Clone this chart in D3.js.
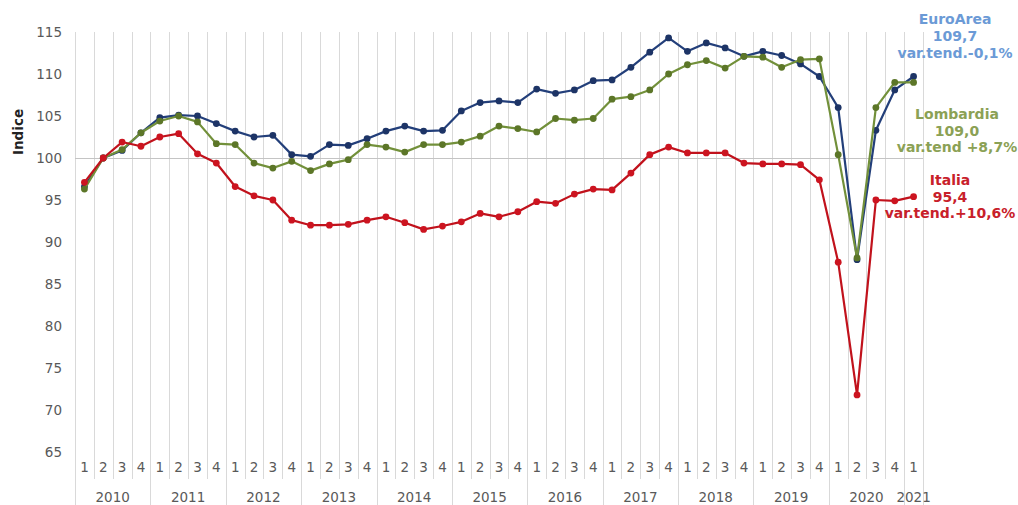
<!DOCTYPE html>
<html>
<head>
<meta charset="utf-8">
<script src="https://cdn.jsdelivr.net/npm/d3@7"></script>
<style>
  html, body { margin: 0; padding: 0; background: #fff; }
  svg { display: block; font-family: "DejaVu Sans", Verdana, sans-serif; }
</style>
</head>
<body>
<svg id="chart" width="1018" height="505"></svg>
<script>
// ---- Data ----
const years = ["2010","2011","2012","2013","2014","2015","2016","2017","2018","2019","2020","2021"];
const quarterLabels = ["1","2","3","4"];
// categories: 2010 Q1 .. 2021 Q1
const categories = [];
years.forEach(yr => quarterLabels.forEach(q => { if (!(yr === "2021" && q !== "1")) categories.push(yr + "-" + q); }));

const euroArea = [96.6,100.0,100.9,103.0, 104.8,105.1,105.0,104.1, 103.2,102.5,102.7,100.4,
  100.2,101.6,101.5,102.3, 103.2,103.8,103.2,103.3, 105.6,106.6,106.8,106.6,
  108.2,107.7,108.1,109.2, 109.3,110.8,112.6,114.3, 112.7,113.7,113.1,112.1,
  112.7,112.2,111.2,109.7, 106.0,87.9,103.3,108.1, 109.7];
const lombardia = [96.3,100.0,101.0,103.0, 104.4,105.0,104.3,101.7, 101.6,99.4,98.8,99.6,
  98.5,99.3,99.8,101.6, 101.3,100.7,101.6,101.6, 101.9,102.6,103.8,103.5,
  103.1,104.7,104.5,104.7, 107.0,107.3,108.1,110.0, 111.1,111.6,110.7,112.1,
  112.0,110.8,111.7,111.8, 100.4,88.1,106.0,109.0, 109.0];
const italia = [97.1,100.0,101.9,101.4, 102.5,102.9,100.5,99.4, 96.6,95.5,95.0,92.6,
  92.0,92.0,92.1,92.6, 93.0,92.3,91.5,91.9, 92.4,93.4,93.0,93.6,
  94.8,94.6,95.7,96.3, 96.2,98.2,100.4,101.3, 100.6,100.6,100.6,99.4,
  99.3,99.3,99.2,97.4, 87.6,71.8,95.0,94.9, 95.4];

const yTicks = [65,70,75,80,85,90,95,100,105,110,115];

const seriesList = [
  { name: "EuroArea", values: euroArea, color: "#233f7a", marker: "#1d3466" },
  { name: "Lombardia", values: lombardia, color: "#72903a", marker: "#5c7628" },
  { name: "Italia", values: italia, color: "#c1121c", marker: "#cc1420" }
];

const notes = [
  { lines: ["EuroArea", "109,7", "var.tend.-0,1%"], color: "#6b9ad6", x: 955, y: [19, 35.5, 52.5] },
  { lines: ["Lombardia", "109,0", "var.tend +8,7%"], color: "#8ba155", x: 957, y: [114, 130.5, 147] },
  { lines: ["Italia", "95,4", "var.tend.+10,6%"], color: "#c8202a", x: 950, y: [180, 196.5, 213] }
];

// ---- Layout ----
const svg = d3.select("#chart");
const plotL = 75, plotR = 923, plotT = 32, plotB = 452;

const x = d3.scaleBand().domain(categories).range([plotL, plotR]).padding(0);
const y = d3.scaleLinear().domain([65, 115]).range([plotB, plotT]);
const cx = c => x(c) + x.bandwidth() / 2;

// vertical gridlines at category boundaries
const gridG = svg.append("g");
const bounds = categories.map(c => x(c)).concat([plotR]);
bounds.forEach((bx, i) => {
  const isYear = (i % 4 === 0) || i === categories.length;
  gridG.append("line")
    .attr("x1", Math.round(bx) + 0.5).attr("x2", Math.round(bx) + 0.5)
    .attr("y1", plotT).attr("y2", isYear ? 505 : 479)
    .attr("stroke", "#d9d9d9").attr("stroke-width", 1);
});

// horizontal reference line at 100
svg.append("line")
  .attr("x1", plotL).attr("x2", plotR)
  .attr("y1", Math.round(y(100)) + 0.5).attr("y2", Math.round(y(100)) + 0.5)
  .attr("stroke", "#c4c4c4").attr("stroke-width", 1);

// y axis (labels only)
const yAxis = d3.axisLeft(y).tickValues(yTicks).tickSize(0).tickPadding(0).tickFormat(d3.format("d"));
const yg = svg.append("g").attr("transform", "translate(62,0)").call(yAxis);
yg.select(".domain").remove();
yg.selectAll("text").attr("fill", "#595959").style("font-size", "13.5px").style("font-family", "DejaVu Sans");

// y title
svg.append("text")
  .attr("transform", "translate(18,132) rotate(-90)")
  .attr("text-anchor", "middle").attr("dominant-baseline", "central")
  .style("font-size", "13.5px").style("font-weight", "bold").attr("fill", "#222")
  .text("Indice");

// x axis: quarter labels
const xAxis = d3.axisBottom(x).tickSize(0).tickPadding(0).tickFormat(c => c.split("-")[1]);
const xg = svg.append("g").attr("transform", "translate(0,462)").call(xAxis);
xg.select(".domain").remove();
xg.selectAll("text").attr("fill", "#595959").style("font-size", "13.5px").style("font-family", "DejaVu Sans");

// year labels
years.forEach(yr => {
  const cs = categories.filter(c => c.startsWith(yr));
  const x0 = x(cs[0]), x1 = x(cs[cs.length - 1]) + x.bandwidth();
  svg.append("text")
    .attr("x", (x0 + x1) / 2).attr("y", 497)
    .attr("text-anchor", "middle").attr("dominant-baseline", "central")
    .attr("fill", "#595959").style("font-size", "13.5px")
    .text(yr);
});

// lines
const line = d3.line().x((d, i) => cx(categories[i])).y(d => y(d));
seriesList.forEach(s => {
  const g = svg.append("g");
  g.append("path").datum(s.values)
    .attr("d", line).attr("fill", "none")
    .attr("stroke", s.color).attr("stroke-width", 2.2).attr("stroke-linejoin", "round");
  g.selectAll("circle").data(s.values).join("circle")
    .attr("cx", (d, i) => cx(categories[i])).attr("cy", d => y(d))
    .attr("r", 3.4).attr("fill", s.marker);
});

// annotations
notes.forEach(n => {
  n.lines.forEach((t, i) => {
    svg.append("text")
      .attr("x", n.x).attr("y", n.y[i])
      .attr("text-anchor", "middle").attr("dominant-baseline", "central")
      .style("font-size", "14px").style("font-weight", "bold")
      .attr("fill", n.color).text(t);
  });
});
</script>
</body>
</html>
